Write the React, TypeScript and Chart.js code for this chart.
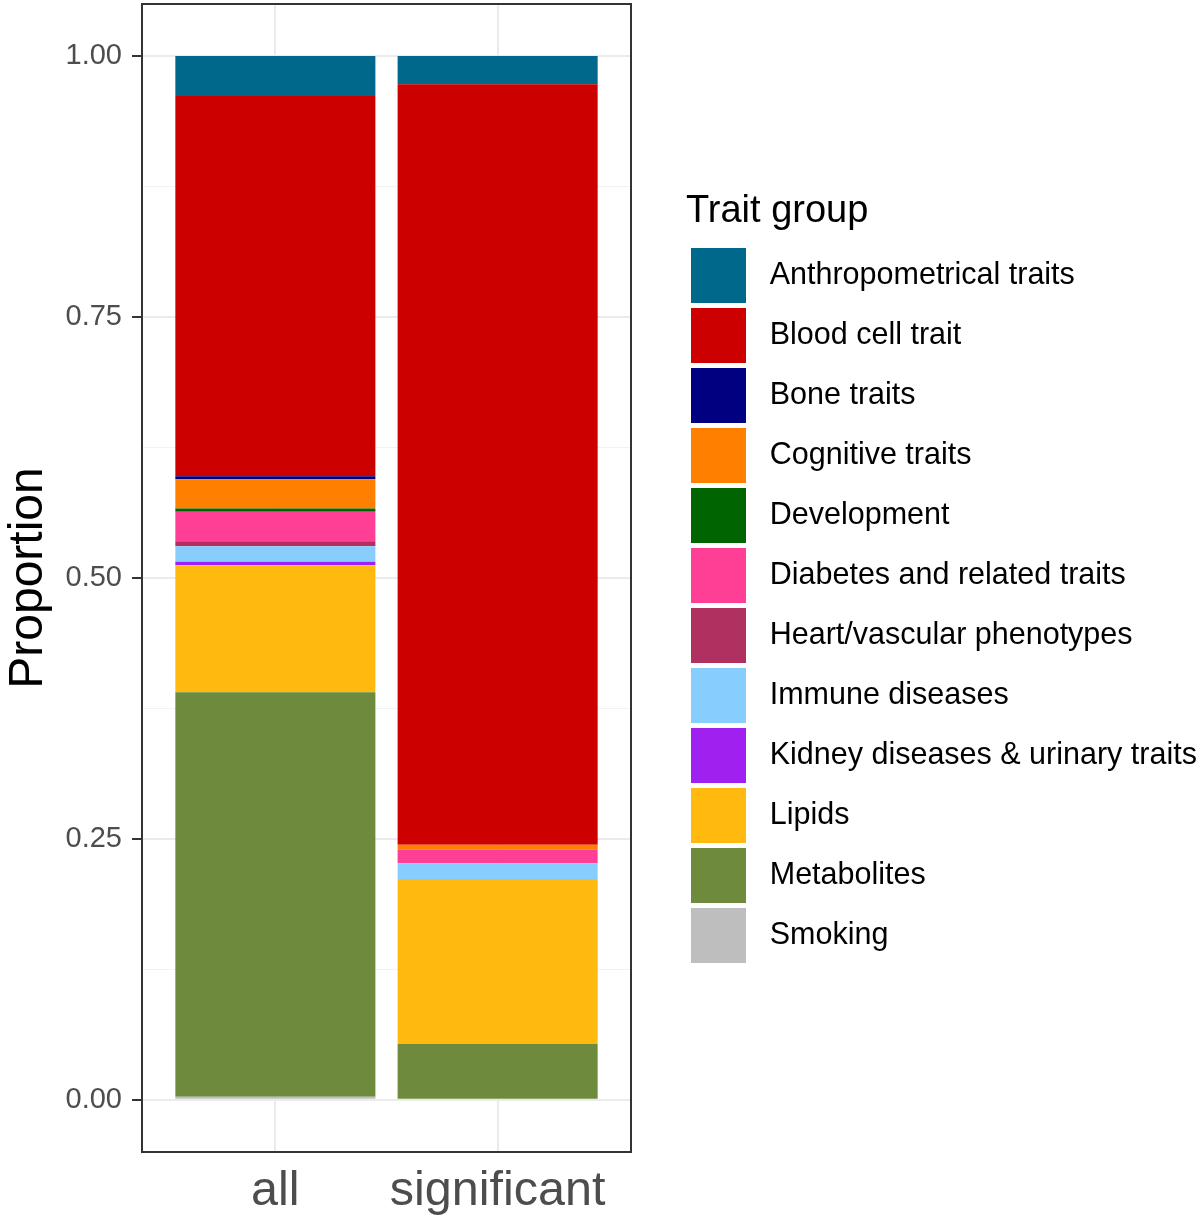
import React, { useEffect, useRef } from 'react';
import Chart from 'chart.js/auto';

const categories = ['all', 'significant'];
const traitGroups = [
  'Anthropometrical traits',
  'Blood cell trait',
  'Bone traits',
  'Cognitive traits',
  'Development',
  'Diabetes and related traits',
  'Heart/vascular phenotypes',
  'Immune diseases',
  'Kidney diseases & urinary traits',
  'Lipids',
  'Metabolites',
  'Smoking',
];
const traitColors = [
  '#00688B', '#CD0000', '#000080', '#FF7F00', '#006400', '#FF3E96',
  '#B03060', '#87CEFF', '#A020F0', '#FFB90F', '#6E8B3D', '#BEBEBE',
];
const allValues = [0.0383, 0.3643, 0.0029, 0.028, 0.0032, 0.0281, 0.0048, 0.0149, 0.0035, 0.1215, 0.3876, 0.003];
const significantValues = [0.0271, 0.7286, 0, 0.0048, 0, 0.013, 0, 0.015, 0, 0.158, 0.0536, 0];
const yTickValues = [0, 0.125, 0.25, 0.375, 0.5, 0.625, 0.75, 0.875, 1];

const FONT = 'Arial, "Liberation Sans", sans-serif';
const isMajor = (v: number) => Math.abs(v * 4 - Math.round(v * 4)) < 1e-9;

const panelBorder = {
  id: 'panelBorder',
  afterDatasetsDraw(chart: any) {
    const { ctx, chartArea: a } = chart;
    ctx.save();
    ctx.strokeStyle = '#333333';
    ctx.lineWidth = 2;
    ctx.strokeRect(a.left, a.top, a.right - a.left, a.bottom - a.top);
    ctx.restore();
  },
};

export default function App() {
  const ref = useRef<HTMLCanvasElement | null>(null);

  useEffect(() => {
    if (!ref.current) return;
    Chart.defaults.font.family = FONT;
    const datasets = traitGroups
      .map((name, i) => ({
        label: name,
        data: [
          { x: 1, y: allValues[i] },
          { x: 2, y: significantValues[i] },
        ],
        backgroundColor: traitColors[i],
        borderWidth: 0,
        categoryPercentage: 0.9,
        barPercentage: 1,
      }))
      .reverse();

    const chart = new Chart(ref.current, {
      type: 'bar',
      data: { datasets },
      plugins: [panelBorder],
      options: {
        animation: false,
        responsive: false,
        maintainAspectRatio: false,
        events: [],
        layout: { padding: { top: 4, left: 0, right: 0, bottom: 0 } },
        plugins: {
          tooltip: { enabled: false },
          legend: {
            position: 'right',
            align: 'start',
            maxWidth: 514,
            title: {
              display: true,
              text: 'Trait group',
              color: '#000000',
              font: { family: FONT, size: 38 },
              padding: { top: 189, bottom: 4.4 },
              position: 'start',
            },
            labels: {
              boxWidth: 55,
              boxHeight: 55,
              padding: 5,
              color: '#000000',
              font: { family: FONT, size: 30.5 },
              sort: (a: any, b: any) => b.datasetIndex - a.datasetIndex,
              generateLabels: (c: any) =>
                (Chart as any).defaults.plugins.legend.labels
                  .generateLabels(c)
                  .map((l: any) => ({ ...l, text: ' ' + l.text })),
            },
          },
        },
        scales: {
          x: {
            type: 'linear',
            min: 0.4,
            max: 2.6,
            offset: false,
            stacked: true,
            afterBuildTicks: (s: any) => {
              s.ticks = categories.map((_, i) => ({ value: i + 1 }));
            },
            afterFit: (s: any) => {
              s.height = 66;
              s.paddingLeft = 0;
              s.paddingRight = 0;
            },
            grid: { color: '#EBEBEB', lineWidth: 2, drawTicks: false, offset: false },
            border: { display: false },
            ticks: {
              callback: (v: any) => categories[Math.round(Number(v)) - 1] ?? '',
              font: { family: FONT, size: 48.5 },
              color: '#4D4D4D',
              padding: 11,
              autoSkip: false,
              maxRotation: 0,
            },
          },
          y: {
            type: 'linear',
            min: -0.05,
            max: 1.05,
            stacked: true,
            afterBuildTicks: (s: any) => {
              s.ticks = yTickValues.map((v) => ({ value: v }));
            },
            afterFit: (s: any) => {
              s.width = 142;
              s.paddingTop = 0;
              s.paddingBottom = 0;
            },
            grid: {
              color: (c: any) => (c.tick && isMajor(c.tick.value) ? '#EBEBEB' : '#F2F2F2'),
              lineWidth: (c: any) => (c.tick && isMajor(c.tick.value) ? 2 : 1),
              tickColor: (c: any) => (c.tick && isMajor(c.tick.value) ? '#333333' : 'rgba(0,0,0,0)'),
              tickWidth: 2,
              tickLength: 10,
              drawTicks: true,
            },
            border: { display: false },
            ticks: {
              callback: (v: any) => (isMajor(Number(v)) ? Number(v).toFixed(2) : ''),
              font: { family: FONT, size: 29 },
              color: '#4D4D4D',
              padding: 10,
              autoSkip: false,
            },
            title: {
              display: true,
              text: 'Proportion',
              color: '#000000',
              font: { family: FONT, size: 48 },
              padding: { top: 0, bottom: 0 },
            },
          },
          yRight: {
            type: 'linear',
            position: 'right',
            display: true,
            grid: { display: false, drawTicks: false },
            border: { display: false },
            ticks: { display: false },
            afterFit: (s: any) => {
              s.width = 55;
              s.paddingTop = 0;
              s.paddingBottom = 0;
            },
          },
        },
      } as any,
    });
    return () => chart.destroy();
  }, []);

  return (
    <div style={{ position: 'absolute', left: 0, top: 0, width: 1200, height: 1218, background: '#ffffff' }}>
      <canvas ref={ref} width={1200} height={1218} style={{ display: 'block', width: 1200, height: 1218 }} />
    </div>
  );
}
